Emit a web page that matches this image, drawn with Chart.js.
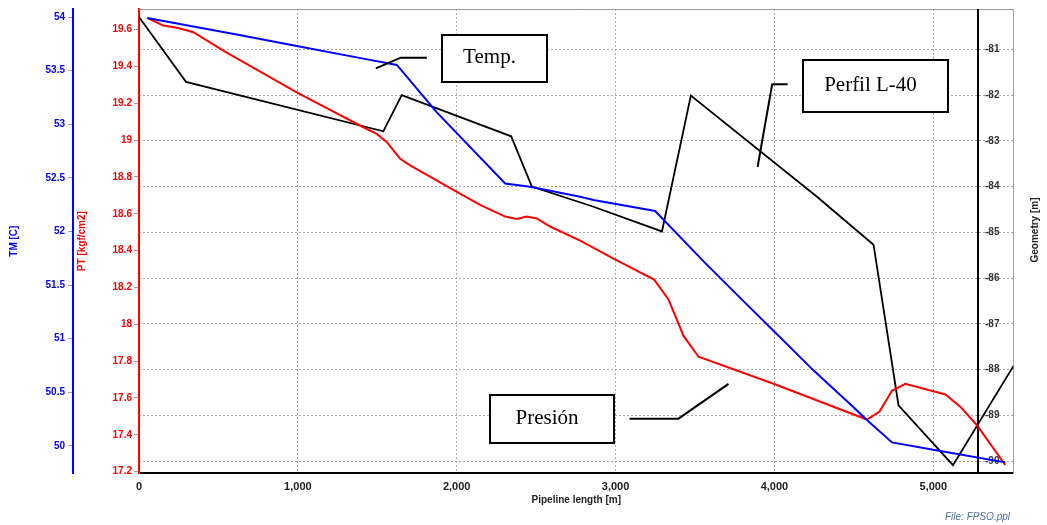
<!DOCTYPE html>
<html>
<head>
<meta charset="utf-8">
<script src="https://cdn.jsdelivr.net/npm/chart.js@4/dist/chart.umd.min.js"></script>
<style>
  html, body { margin: 0; padding: 0; background: #fff; overflow: hidden; }
  #wrap { width: 1047px; height: 525px; position: relative; }
  canvas { display: block; }
</style>
</head>
<body>
<div id="wrap"><canvas id="c" width="1047" height="525"></canvas></div>
<script>
// Line profile (elevation of the pipe, m) against pipeline length (m)
const profileLength = [0, 296, 1538, 1654, 2343, 2473, 2861, 3292, 3474, 4268, 4624, 4781, 5124, 5505];
const profileElevation = [-80.29, -81.71, -82.79, -82.00, -82.90, -84.00, -84.44, -84.98, -82.01, -84.22, -85.27, -88.78, -90.09, -87.92];

// Pressure PT (kgf/cm2) along the line
const pressureLength = [55, 153, 247, 342, 552, 993, 1412, 1497, 1560, 1644, 1707, 2001, 2147, 2305, 2378, 2441, 2504, 2588, 2777, 2987, 3243, 3333, 3428, 3522, 3994, 4582, 4662, 4740, 4824, 5076, 5170, 5275, 5453];
const pressureValues = [19.663, 19.622, 19.609, 19.586, 19.475, 19.259, 19.070, 19.034, 18.989, 18.899, 18.863, 18.719, 18.648, 18.585, 18.572, 18.585, 18.575, 18.531, 18.454, 18.356, 18.243, 18.135, 17.937, 17.824, 17.677, 17.483, 17.526, 17.639, 17.677, 17.619, 17.553, 17.452, 17.236];

// Fluid temperature TM (C) along the line
const tempLength = [52, 615, 993, 1412, 1623, 1875, 2305, 2462, 2777, 2861, 3249, 3554, 3805, 4037, 4247, 4498, 4582, 4740, 5044, 5453];
const tempValues = [53.992, 53.837, 53.729, 53.612, 53.553, 53.111, 52.447, 52.416, 52.323, 52.293, 52.191, 51.721, 51.350, 51.010, 50.702, 50.361, 50.241, 50.032, 49.951, 49.846];

// Tick values for each axis
const lengthTicks = [0, 1000, 2000, 3000, 4000, 5000];
const pressureTicks = [17.2, 17.4, 17.6, 17.8, 18, 18.2, 18.4, 18.6, 18.8, 19, 19.2, 19.4, 19.6];
const tempTicks = [50, 50.5, 51, 51.5, 52, 52.5, 53, 53.5, 54];
const elevationTicks = [-90, -89, -88, -87, -86, -85, -84, -83, -82, -81];

// Callout boxes with leader lines, placed in (length, elevation) coordinates
const callouts = [
  { text: 'Temp.',       box: [1910, -80.674, 2567, -81.723], leader: [[1491, -81.413], [1648, -81.18], [1812, -81.18]] },
  { text: 'Perfil L-40', box: [4177, -81.239, 5090, -82.375], leader: [[3894, -83.57], [3986, -81.76], [4083, -81.76]] },
  { text: 'Presión',     box: [2210, -88.552, 2993, -89.603], leader: [[3088, -89.073], [3396, -89.073], [3711, -88.313]] }
];

// Length at which the elevation axis line is drawn
const geoAxisAt = 5280;

const SANS = '"Liberation Sans", Arial, sans-serif';
const SERIF = '"Liberation Serif", "Times New Roman", serif';
const GRID = '#ababab';

const toPoints = (xs, ys) => xs.map((x, i) => ({ x, y: ys[i] }));
const fixedTicks = (vals) => (scale) => { scale.ticks = vals.map(v => ({ value: v })); };

const overlay = {
  id: 'overlay',
  beforeDatasetsDraw(chart) {
    const { ctx, chartArea: a, scales: { x, geo } } = chart;
    ctx.save();
    // top frame line
    ctx.strokeStyle = '#9a9a9a';
    ctx.lineWidth = 1;
    ctx.beginPath();
    ctx.moveTo(a.left, Math.round(a.top) + 0.5);
    ctx.lineTo(a.right, Math.round(a.top) + 0.5);
    ctx.stroke();
    // elevation axis line inside the plot
    const gx = Math.round(x.getPixelForValue(geoAxisAt));
    ctx.strokeStyle = '#000';
    ctx.lineWidth = 2;
    ctx.beginPath();
    ctx.moveTo(gx, a.top);
    ctx.lineTo(gx, a.bottom);
    ctx.stroke();
    // elevation tick labels
    ctx.font = 'bold 10px ' + SANS;
    ctx.fillStyle = '#333';
    ctx.textAlign = 'left';
    ctx.textBaseline = 'middle';
    elevationTicks.forEach(v => ctx.fillText(String(v), gx + 7, geo.getPixelForValue(v)));
    ctx.restore();
  },
  afterDraw(chart) {
    const { ctx, scales: { x, geo } } = chart;
    ctx.save();
    // callouts
    callouts.forEach(c => {
      ctx.strokeStyle = '#000';
      ctx.lineWidth = 2;
      ctx.beginPath();
      c.leader.forEach(([lx, ly], i) => {
        const px = x.getPixelForValue(lx), py = geo.getPixelForValue(ly);
        if (i === 0) ctx.moveTo(px, py); else ctx.lineTo(px, py);
      });
      ctx.stroke();
      const x1 = Math.round(x.getPixelForValue(c.box[0]));
      const y1 = Math.round(geo.getPixelForValue(c.box[1]));
      const x2 = Math.round(x.getPixelForValue(c.box[2]));
      const y2 = Math.round(geo.getPixelForValue(c.box[3]));
      ctx.fillStyle = '#fff';
      ctx.fillRect(x1, y1, x2 - x1, y2 - y1);
      ctx.strokeRect(x1, y1, x2 - x1, y2 - y1);
      ctx.fillStyle = '#000';
      ctx.font = '21px ' + SERIF;
      ctx.textAlign = 'center';
      ctx.textBaseline = 'middle';
      ctx.fillText(c.text, (x1 + x2) / 2 - 5, (y1 + y2) / 2 - 1);
    });
    // elevation axis title
    ctx.save();
    ctx.translate(1035, 230);
    ctx.rotate(-Math.PI / 2);
    ctx.font = 'bold 10px ' + SANS;
    ctx.fillStyle = '#222';
    ctx.textAlign = 'center';
    ctx.textBaseline = 'middle';
    ctx.fillText('Geometry [m]', 0, 0);
    ctx.restore();
    // source file note
    ctx.font = 'italic 10px ' + SANS;
    ctx.fillStyle = '#50709e';
    ctx.textAlign = 'right';
    ctx.textBaseline = 'middle';
    ctx.fillText('File: FPSO.ppl', 1010, 517);
    ctx.restore();
  }
};

new Chart(document.getElementById('c'), {
  type: 'line',
  data: {
    datasets: [
      { label: 'TM', data: toPoints(tempLength, tempValues), yAxisID: 'tm', borderColor: '#0000ff', borderWidth: 2, pointRadius: 0, tension: 0, fill: false },
      { label: 'PT', data: toPoints(pressureLength, pressureValues), yAxisID: 'pt', borderColor: '#ff0000', borderWidth: 2, pointRadius: 0, tension: 0, fill: false },
      { label: 'Geometry', data: toPoints(profileLength, profileElevation), yAxisID: 'geo', borderColor: '#000000', borderWidth: 1.8, pointRadius: 0, tension: 0, fill: false }
    ]
  },
  options: {
    responsive: false,
    animation: false,
    devicePixelRatio: 1,
    layout: { padding: { top: 6, left: 0, right: 0, bottom: 0 } },
    plugins: { legend: { display: false }, tooltip: { enabled: false } },
    scales: {
      x: {
        type: 'linear', position: 'bottom', min: 0, max: 5505,
        afterBuildTicks: fixedTicks(lengthTicks),
        afterFit: s => { s.height = 51.7; },
        ticks: { callback: v => v.toLocaleString('en-US'), color: '#222', font: { family: SANS, size: 11, weight: 'bold' }, padding: 3, maxRotation: 0, autoSkip: false },
        grid: { color: GRID, lineWidth: 1, tickLength: 4, tickColor: 'rgba(0,0,0,0)' },
        border: { color: '#000', width: 2, dash: [2, 2] },
        title: { display: true, text: 'Pipeline length [m]', color: '#222', font: { family: SANS, size: 10, weight: 'bold' }, padding: { top: 0, bottom: 19 } }
      },
      pt: {
        type: 'linear', position: 'left', weight: 0, min: 17.191, max: 19.712,
        afterBuildTicks: fixedTicks(pressureTicks),
        afterFit: s => { s.width = 66; },
        ticks: { callback: v => String(v), color: '#ff0000', font: { family: SANS, size: 10, weight: 'bold' }, padding: 2, autoSkip: false },
        grid: { drawOnChartArea: false, tickLength: 5, tickColor: '#a0a0a0' },
        border: { color: '#ff0000', width: 2 },
        title: { display: true, text: 'PT [kgf/cm2]', color: '#ff0000', font: { family: SANS, size: 10, weight: 'bold' }, padding: { top: 3, bottom: 0 } }
      },
      tm: {
        type: 'linear', position: 'left', weight: 1, min: 49.744, max: 54.075,
        afterBuildTicks: fixedTicks(tempTicks),
        afterFit: s => { s.width = 73; },
        ticks: { callback: v => String(v), color: '#0000ff', font: { family: SANS, size: 10, weight: 'bold' }, padding: 3, autoSkip: false },
        grid: { drawOnChartArea: false, tickLength: 5, tickColor: '#a0a0a0' },
        border: { color: '#0000ff', width: 2 },
        title: { display: true, text: 'TM [C]', color: '#0000ff', font: { family: SANS, size: 10, weight: 'bold' }, padding: { top: 8, bottom: 0 } }
      },
      geo: {
        type: 'linear', position: 'right', min: -90.268, max: -80.116,
        afterBuildTicks: fixedTicks(elevationTicks),
        afterFit: s => { s.width = 33.5; },
        ticks: { display: false },
        grid: { color: GRID, lineWidth: 1, drawTicks: false },
        border: { color: '#a0a0a0', width: 1, dash: [2, 2] },
        title: { display: false }
      }
    }
  },
  plugins: [overlay]
});
</script>
</body>
</html>
